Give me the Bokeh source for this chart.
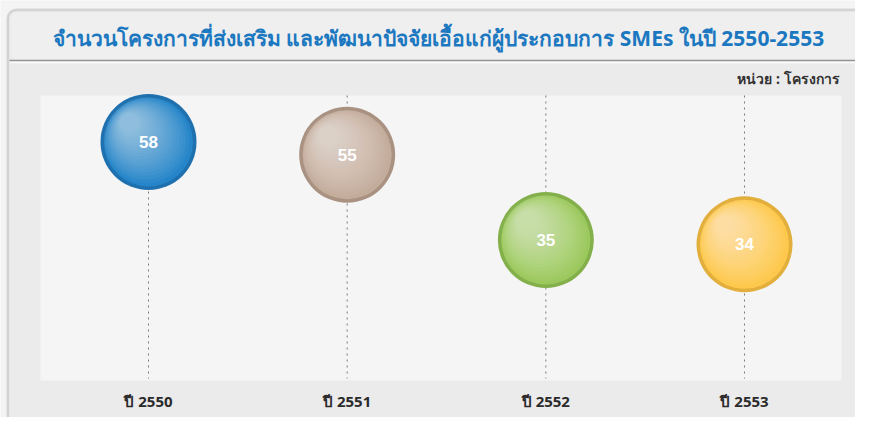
from bokeh.plotting import figure
from bokeh.models import Range1d, BoxAnnotation, ColumnDataSource
from bokeh.core.properties import value
from bokeh.embed import file_html
from bokeh.resources import INLINE

# ---- data ----
years = ["ปี 2550", "ปี 2551", "ปี 2552", "ปี 2553"]
projects = [58, 55, 35, 34]
ring_colors = ["#1f70ae", "#a99282", "#84b04c", "#e2ae3c"]
main_colors = ["#2585c8", "#c4ac9b", "#9cc95e", "#fdc84c"]
title_text = "จำนวนโครงการที่ส่งเสริม และพัฒนาปัจจัยเอื้อแก่ผู้ประกอบการ SMEs ในปี 2550-2553"
unit_text = "หน่วย : โครงการ"

W, H = 855, 417
PX_PER_X = 198.67
PX_PER_Y = 4.263
X0_PX = 148.0           # px of first category
Y_MID_PX = 194.75       # px of value 45.5
Y_MID_V = 45.5

def X(px):
    return (px - X0_PX) / PX_PER_X

def Y(py):
    return Y_MID_V + (Y_MID_PX - py) / PX_PER_Y

idx = list(range(len(years)))

p = figure(width=W, height=H, output_backend="svg", toolbar_location=None,
           x_range=Range1d(X(0), X(W)), y_range=Range1d(Y(H), Y(0)),
           min_border=0, background_fill_color="#f4f4f4", border_fill_color="#f4f4f4",
           outline_line_color=None)
p.axis.visible = False
p.grid.visible = False

# panel shadow + panel
p.add_layout(BoxAnnotation(left=X(6), right=X(868), top=Y(8), bottom=Y(445),
                           fill_color="#d6d6d6", fill_alpha=1, line_color=None,
                           border_radius=10, level="underlay"))
p.add_layout(BoxAnnotation(left=X(8), right=X(866), top=Y(10), bottom=Y(442),
                           fill_color="#ebebeb", fill_alpha=1, line_color="#b4b4b4",
                           line_width=1.5, border_radius=8, level="underlay"))
# title band (lighter)
p.add_layout(BoxAnnotation(left=X(10), right=X(864), top=Y(12), bottom=Y(59),
                           fill_color="#efefef", fill_alpha=1, line_color=None,
                           border_radius=7, level="underlay"))
# inner plot area
p.add_layout(BoxAnnotation(left=X(40), right=X(841), top=Y(95), bottom=Y(380),
                           fill_color="#f5f5f5", fill_alpha=1, line_color=None,
                           level="underlay"))
# separator lines under title
p.segment(x0=[X(9), X(9)], x1=[X(866), X(866)], y0=[Y(60), Y(62)], y1=[Y(60), Y(62)],
          line_color=["#959595", "#fbfbfb"], line_width=[1.5, 1.5])

# title
p.text(x=[X(438)], y=[Y(37)], text=[title_text], text_align="center",
       text_baseline="middle", text_color="#1b78c0", text_font_size="21px",
       text_font_style="bold", text_font=value("Noto Sans"))
# unit
p.text(x=[X(839)], y=[Y(78)], text=[unit_text], text_align="right",
       text_baseline="middle", text_color="#333333", text_font_size="14px",
       text_font_style="bold", text_font=value("Noto Sans"))

# dotted guide lines
p.segment(x0=idx, x1=idx, y0=[Y(95)] * 4, y1=[Y(378)] * 4,
          line_color="#7a7a7a", line_dash="2 4", line_width=1)

src = ColumnDataSource(dict(x=idx, y=projects, ring=ring_colors, main=main_colors,
                            label=[str(v) for v in projects], year=years,
                            ylab=[Y(400)] * len(years)))

# bubbles
p.scatter(x="x", y="y", source=src, size=96, fill_color="ring", line_color=None)
p.scatter(x="x", y="y", source=src, size=89, fill_color="main", line_color=None)
# soft glossy gradient toward upper-left
steps = 16
for k in range(steps):
    t = k / (steps - 1)
    sz = 86 - 66 * t
    off = 2 + 17 * t
    dx = -off / PX_PER_X
    dy = off / PX_PER_Y
    p.scatter(x=[i + dx for i in idx], y=[v + dy for v in projects], size=sz,
              fill_color="white", fill_alpha=0.045, line_color=None)

# values
p.text(x="x", y="y", text="label", source=src, text_align="center",
       text_baseline="middle", text_color="white", text_font_size="17px",
       text_font_style="bold", text_font=value("Liberation Sans"))

# category labels
p.text(x="x", y="ylab", text="year", source=src, text_align="center",
       text_baseline="middle", text_color="#2a2a2a", text_font_size="15px",
       text_font_style="bold", text_font=value("Noto Sans"))

open("out.html", "w").write(file_html(p, INLINE))
